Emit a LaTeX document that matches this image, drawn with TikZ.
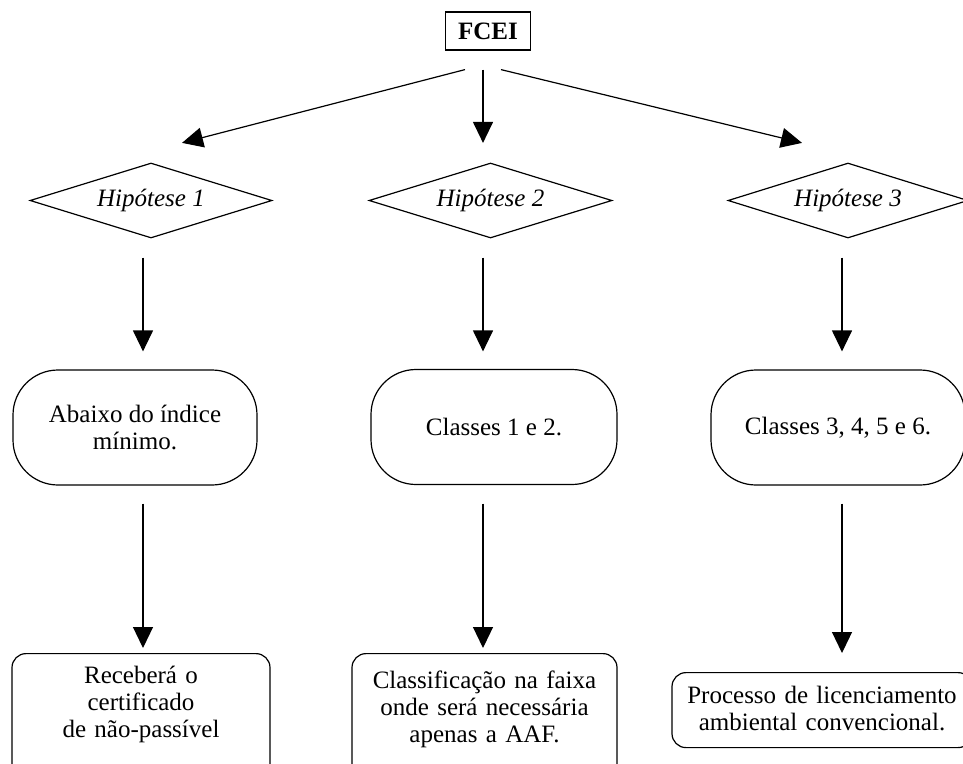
\documentclass[tikz,border=0pt]{standalone}
\usepackage{fontspec}
\setmainfont{Liberation Serif}
\usetikzlibrary{shapes.geometric,arrows.meta,calc}
\begin{document}
\begin{tikzpicture}[x=1pt,y=-1pt,
  line width=1.2pt,
  txt/.style={font=\fontsize{25}{27}\selectfont},
  hyp/.style={diamond, draw, inner sep=0pt, aspect=3.23, minimum width=242pt, minimum height=75pt, font=\fontsize{25}{27}\selectfont\itshape},
  stad/.style={draw, rounded corners=45pt, minimum height=115pt, align=center, txt},
  res/.style={draw, rounded corners=14pt, align=center, inner sep=0pt, txt},
  arr/.style={-{Triangle[length=21pt,width=20pt]}},
]
\useasboundingbox (0,0) rectangle (963,763);
\clip (0,0) rectangle (963,763);

\node[draw, minimum width=85pt, minimum height=38pt, inner sep=0pt, font=\fontsize{25}{27}\selectfont\bfseries] (fcei) at (488,31) {FCEI};

\node[hyp] (h1) at (151,200.5) {Hipótese 1};
\node[hyp, minimum width=243pt] (h2) at (490.5,200.5) {Hipótese 2};
\node[hyp, minimum width=240pt] (h3) at (848,200.5) {Hipótese 3};

\node[stad, minimum width=244pt] (s1) at (135,427.5) {Abaixo do índice\\mínimo.};
\node[stad, minimum width=246pt] (s2) at (494,427) {Classes 1 e 2.};
\node[stad, minimum width=254pt] (s3) at (838,427.5) {Classes 3, 4, 5 e 6.};

\node[res, text width=258pt, text height=30pt, text depth=110pt, anchor=north] (b1) at (141,653) {Receberá o\\certificado\\de não-passível};
\node[res, text width=265pt, text height=35pt, text depth=105pt, anchor=north] (b2) at (484.5,653) {Classificação na faixa\\onde será necessária\\apenas a AAF.};
\node[res, text width=300pt, text height=31pt, text depth=44pt, anchor=north] (b3) at (822,672) {Processo de licenciamento\\ambiental convencional.};

\draw[arr] ($(fcei.south)+(-23,19)$) -- ($(h1.north)+(31,-19.5)$);
\draw[arr] ($(fcei.south)+(-5,19)$) -- ($(h2.north)+(-7.5,-19.5)$);
\draw[arr] ($(fcei.south)+(13,19)$) -- ($(h3.north)+(-46,-19.5)$);

\draw[arr] ($(h1.south)+(-8,19)$) -- ($(s1.north)+(8,-18)$);
\draw[arr] ($(h2.south)+(-7.5,19)$) -- ($(s2.north)+(-11,-17.5)$);
\draw[arr] ($(h3.south)+(-6,19)$) -- ($(s3.north)+(4,-18)$);

\draw[arr] ($(s1.south)+(8,18)$) -- ($(b1.north)+(2,-5)$);
\draw[arr] ($(s2.south)+(-11,18.5)$) -- ($(b2.north)+(-1.5,-5)$);
\draw[arr] ($(s3.south)+(4,18)$) -- ($(b3.north)+(20,-19)$);
\end{tikzpicture}
\end{document}
